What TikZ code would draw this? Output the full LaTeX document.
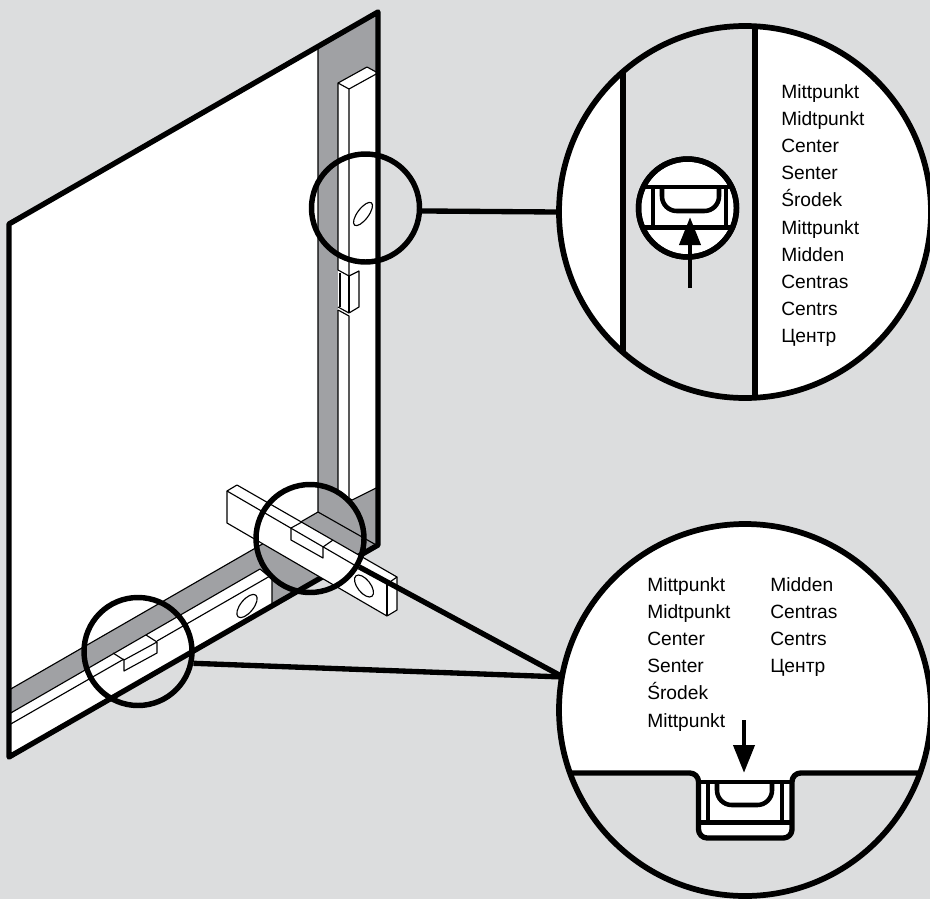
\documentclass[tikz,border=0pt]{standalone}
\usepackage{fontspec}
\setmainfont{Liberation Sans}
\usepackage{tikz}
\usetikzlibrary{arrows.meta,calc,positioning}
\definecolor{SoftGrey}{RGB}{220,221,222}
\definecolor{BandGrey}{RGB}{160,161,164}
\tikzset{
  edge/.style={line width=4pt,line join=round},
  fine/.style={line width=.85pt,line join=round},
  mark line/.style={line width=3.4pt},
  lupe/.style={circle,draw,line width=4.3pt,inner sep=0pt},
  ring/.style={circle,draw,line width=4.1pt,inner sep=0pt},
  words/.style={anchor=north west,align=left,inner sep=0pt,font=\fontsize{14.4}{20.4}\selectfont},
  pointer/.style={line width=3.7pt,-{Triangle[width=15.5pt,length=21pt]}}
}
\begin{document}
\begin{tikzpicture}[x=.75pt,y=-.75pt]
\useasboundingbox (0,0) rectangle (930,899);
\fill[SoftGrey] (0,0) rectangle (930,899);
% panel with its band
\fill[white] (9,224) -- (378,12) -- (378,545) -- (9,757) -- cycle;
\fill[BandGrey] (318,46.5) -- (378,12) -- (378,545) -- (272,606) -- (272,580) -- (260,569) -- (9,714) -- (9,690) -- (318,512) -- cycle;
\draw[fine] (318,46.5) -- (318,512) -- (9,690);
\draw[fine] (318,512) -- (378,546);
% upright level
\fill[white] (338,83) -- (367,67) -- (378,73) -- (378,487) -- (352,500) -- (338,492) -- cycle;
\draw[fine] (338,270) -- (338,83) -- (367,67) -- (378,73) -- (349,89) -- (338,83);
\draw[fine] (349,89) -- (349,276) -- (338,270);
\draw[fine] (349,276) -- (359,271) -- (359,307) -- (349,313) -- (338,307);
\draw[fine] (349,276) -- (349,313);
\draw[fine] (340,273) -- (340,307);
\draw[fine] (338,310) -- (349,316) -- (349,500);
\draw[fine] (338,310) -- (338,492) -- (352,500) -- (378,487);
\draw[fine] (363,214) ellipse [x radius=14,y radius=5.5,rotate=53];
% lower level
\fill[white] (9,714) -- (260,569) -- (272,580) -- (272,606) -- (9,757) -- cycle;
\draw[fine] (9,714) -- (260,569) -- (272,579) -- (272,604);
\draw[fine] (9,725) -- (124,659);
\draw[fine] (157,641) -- (270,576);
\draw[fine] (113,653) -- (124,660) -- (124,671) -- (157,653) -- (157,642) -- (124,660);
\draw[fine] (146,635) -- (157,642);
\draw[fine] (247,606) ellipse [x radius=14,y radius=6.5,rotate=51];
\draw[edge] (9,224) -- (378,12) -- (378,545) -- (9,757) -- cycle;
% level across the corner
\fill[white] (227,491) -- (237,485) -- (397,577) -- (397,610) -- (387,616) -- (227,523) -- cycle;
\draw[fine] (227,491) -- (237,485) -- (397,577) -- (397,610) -- (387,616) -- (227,523) -- cycle;
\draw[fine] (227,491) -- (387,584) -- (397,577);
\draw[fine] (387,584) -- (387,616);
\draw[fine] (302,522) -- (291,528) -- (291,540) -- (323,558) -- (323,547) -- (333,540);
\draw[fine] (364,586) ellipse [x radius=13,y radius=6.5,rotate=-52];
% small rings
\node[ring,minimum size=81pt] (ringUpper) at (365.5,208) {};
\node[ring,minimum size=81pt] (ringCorner) at (310,538.5) {};
\node[ring,minimum size=81pt] (ringLower) at (138,651.5) {};
% upper lupe
\begin{scope}
\clip (745,212) circle [radius=186];
\fill[white] (540,0) rectangle (950,420);
\fill[SoftGrey] (623,0) rectangle (755,420);
\draw[edge] (623,0) -- (623,420);
\draw[edge] (755,0) -- (755,420);
\end{scope}
\node[ring,fill=white,minimum size=73.5pt] (ringBubble) at (687.5,208) {};
\begin{scope}
\clip (687.5,208) circle [radius=49];
\draw[mark line] (630,187) -- (745,187);
\draw[mark line] (630,227.5) -- (745,227.5);
\draw[mark line] (653,187) -- (653,227.5);
\draw[mark line] (726,187) -- (726,227.5);
\draw[mark line,rounded corners=11pt] (662,187) -- (662,211) -- (719,211) -- (719,187);
\end{scope}
\node[ring,minimum size=73.5pt] at (ringBubble) {};
\coordinate (arrowUpper) at (690,288);
\coordinate (tipUpper) at (690,217);
\draw[pointer] (arrowUpper) -- (tipUpper);
\node[lupe,minimum size=279pt] (lupeUpper) at (745,212) {};
\node[words] (textUpper) at (781,84) {Mittpunkt\\Midtpunkt\\Center\\Senter\\Środek\\Mittpunkt\\Midden\\Centras\\Centrs\\Центр};
% lower lupe
\begin{scope}
\clip (745,710) circle [radius=186];
\fill[white] (540,510) rectangle (950,910);
\draw[edge,fill=SoftGrey,rounded corners=6.5pt] (540,773) -- (698.5,773) -- (698.5,838) -- (792,838) -- (792,773) -- (950,773) -- (950,910) -- (540,910) -- cycle;
\draw[mark line] (700,782) -- (790,782);
\draw[mark line] (700,822.5) -- (790,822.5);
\draw[mark line] (708,782) -- (708,822.5);
\draw[mark line] (782,782) -- (782,822.5);
\draw[mark line,rounded corners=11pt] (717,782) -- (717,805) -- (772,805) -- (772,782);
\end{scope}
\coordinate (arrowLower) at (744,720);
\coordinate (tipLower) at (744,773);
\draw[pointer] (arrowLower) -- (tipLower);
\node[lupe,minimum size=279pt] (lupeLower) at (745,710) {};
\node[words] (textLeft) at (647,577) {Mittpunkt\\Midtpunkt\\Center\\Senter\\Środek\\Mittpunkt};
\node[words] (textRight) at (770,577) {Midden\\Centras\\Centrs\\Центр};
% connectors
\coordinate (joinLower) at (563,677);
\draw[edge] (ringUpper.-3) -- (lupeUpper.west);
\draw[edge] (ringCorner.-30) -- (joinLower);
\draw[edge] (ringLower.-12) -- (joinLower);
\end{tikzpicture}
\end{document}
